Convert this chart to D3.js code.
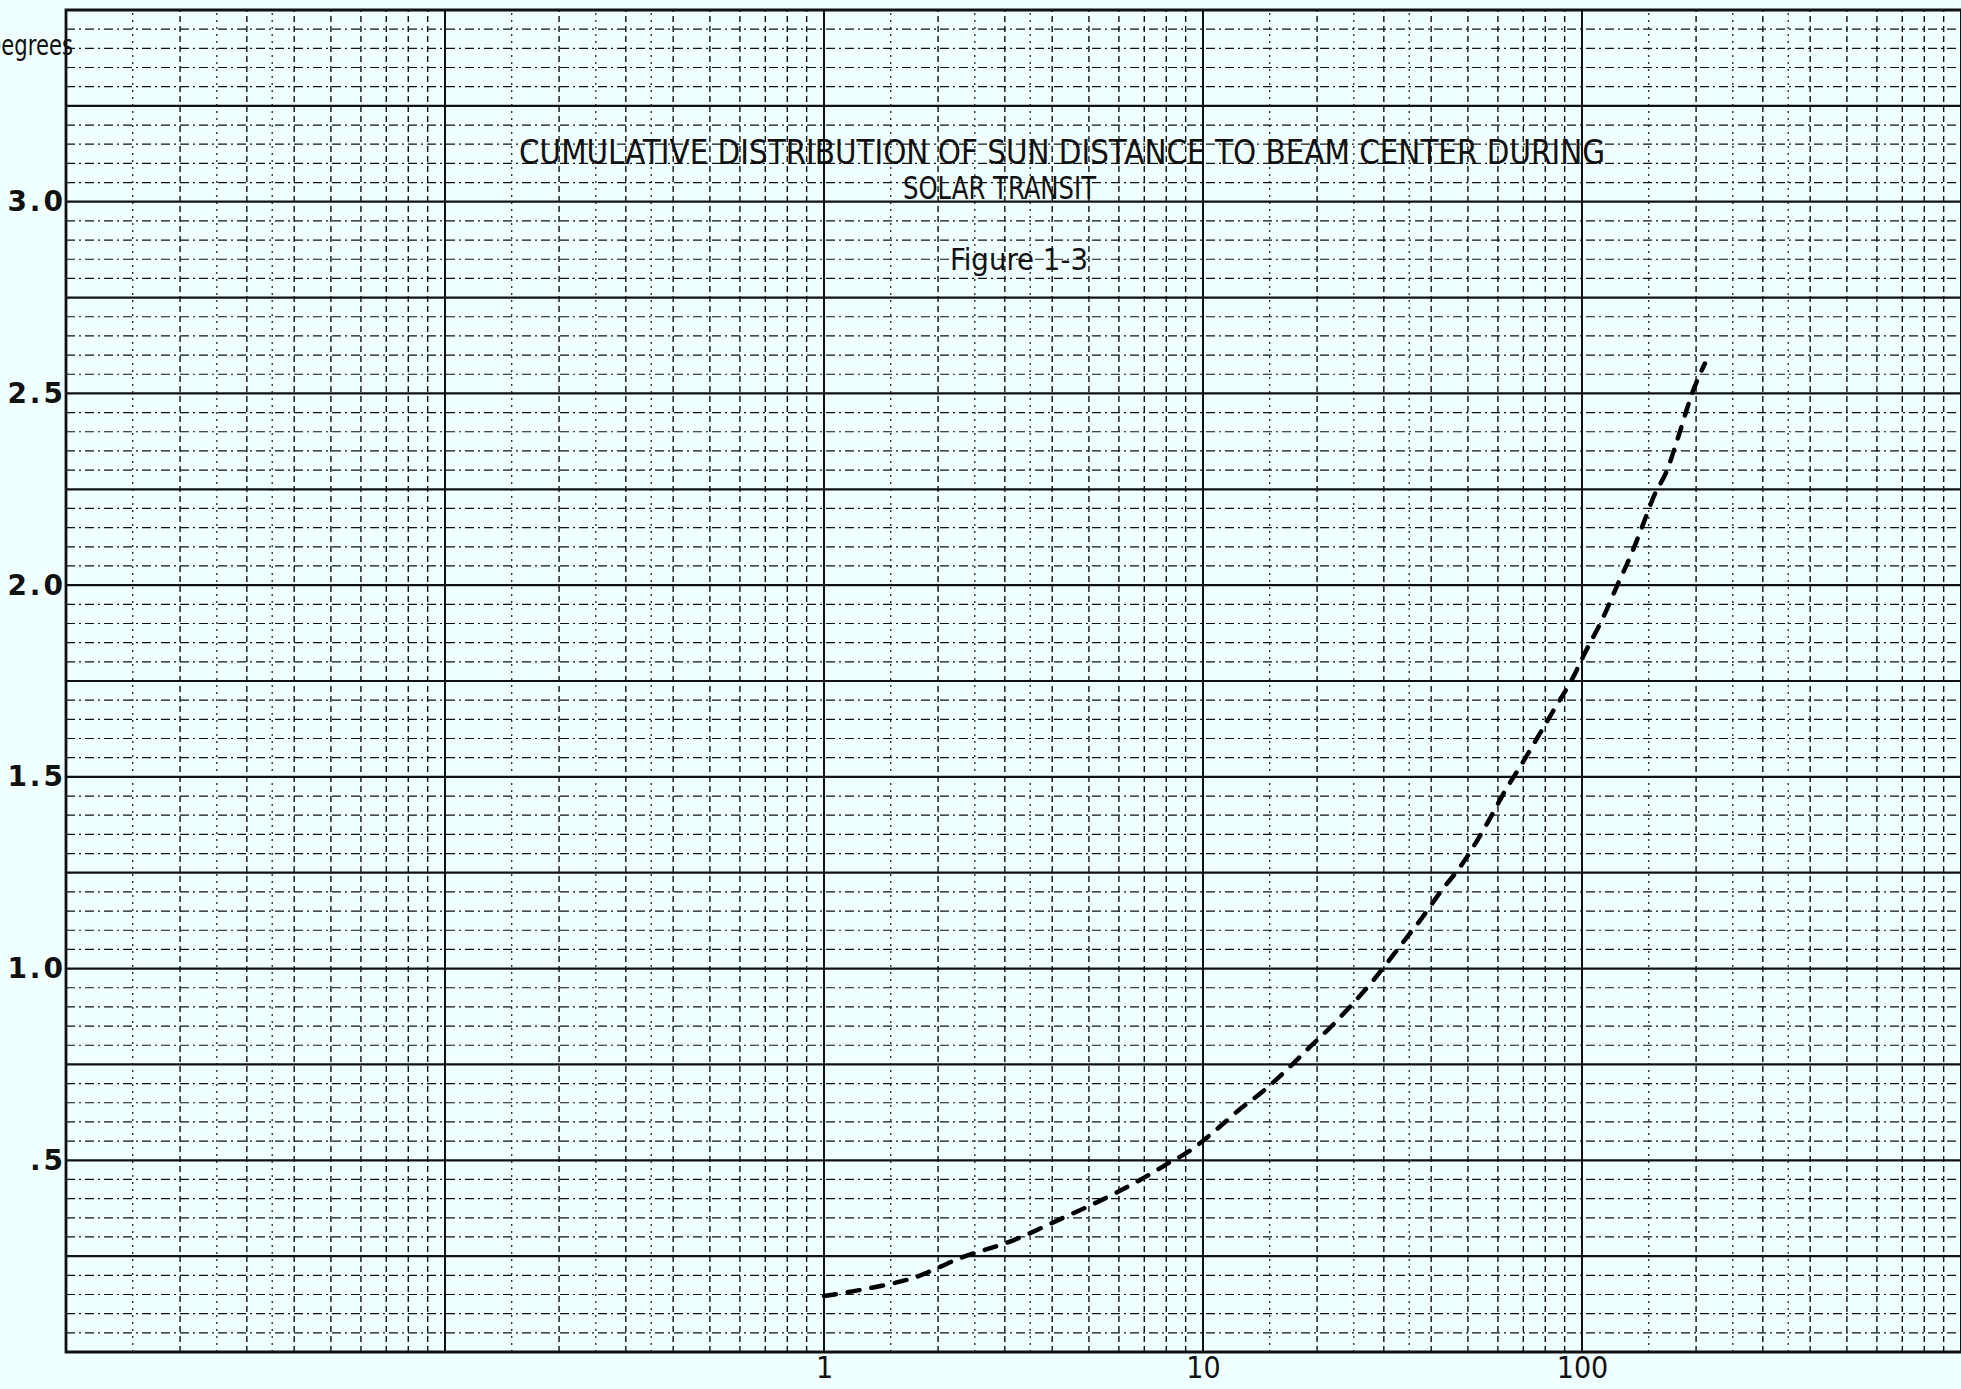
<!DOCTYPE html>
<html>
<head>
<meta charset="utf-8">
<script src="https://cdn.jsdelivr.net/npm/d3@7"></script>
<style>
    body { margin: 0; background: #f0ffff; }
    svg { display: block; }
    .tick-label { font-family: "DejaVu Sans", sans-serif; fill: #111; }
    .title { font-family: "DejaVu Sans Condensed", "Liberation Sans Narrow", sans-serif; fill: #111; }
</style>
</head>
<body>
<div id="chart"></div>
<script>
// percent of time (log x) vs sun distance to beam center in degrees
var percentValues = [1.0, 1.28, 1.74, 2.29, 3.17, 4.32, 5.06, 6.0, 7.03, 8.09, 9.24, 10.7, 12.4, 14.4, 16.6,
    18.9, 21.6, 24.4, 27.9, 33.5, 38.0, 42.7, 47.7, 56.9, 62.7, 69.5, 77.1, 84.9, 94.2, 102, 113, 124,
    136, 145, 154, 168, 179, 196, 211];
var degreeValues = [0.146, 0.164, 0.195, 0.245, 0.292, 0.352, 0.383, 0.419, 0.456, 0.492, 0.525, 0.575, 0.63, 0.68, 0.735,
    0.79, 0.845, 0.9, 0.965, 1.065, 1.135, 1.205, 1.265, 1.388, 1.464, 1.535, 1.61, 1.68, 1.755, 1.825, 1.91, 2.0,
    2.089, 2.159, 2.227, 2.302, 2.383, 2.505, 2.578];

var xTickValues = [1, 10, 100];
var yTickValues = [0.5, 1.0, 1.5, 2.0, 2.5, 3.0];
var yTickLabels = [".5", "1.0", "1.5", "2.0", "2.5", "3.0"];
var gridMultipliers = [1, 1.5, 2, 2.5, 3, 3.5, 4, 5, 6, 7, 8, 9];
var decades = [0.01, 0.1, 1, 10, 100];

var width = 1961, height = 1389;
var margin = {top: 10, left: 66, bottom: 37, right: 0};

var svg = d3.select('#chart').append('svg')
    .attr('width', width)
    .attr('height', height);

svg.append('rect').attr('width', width).attr('height', height).attr('fill', '#f0ffff');

var x = d3.scaleLog()
    .domain([0.01, 1000])
    .range([margin.left, width - margin.right]);
var y = d3.scaleLinear()
    .domain([0, 3.5])
    .range([height - margin.bottom, margin.top]);

// graph paper: horizontal lines every 0.05, heavy every 0.25
var hLines = d3.range(0, 71).map(i => ({v: i * 0.05, major: i % 5 === 0}));
svg.append('g').selectAll('line')
    .data(hLines)
    .enter().append('line')
    .attr('x1', x(0.01))
    .attr('x2', x(1000))
    .attr('y1', d => y(d.v))
    .attr('y2', d => y(d.v))
    .attr('stroke', '#111')
    .attr('stroke-width', d => d.major ? 2.2 : 1.2)
    .attr('stroke-dasharray', d => d.major ? null : '9,4,2,4');

// vertical log lines
var vLines = [];
decades.forEach(function(dec) {
    gridMultipliers.forEach(function(m) {
        vLines.push({v: dec * m, kind: m === 1 ? 'major' : (m % 1 ? 'half' : 'minor')});
    });
});
vLines.push({v: 1000, kind: 'major'});

svg.append('g').selectAll('line')
    .data(vLines)
    .enter().append('line')
    .attr('x1', d => x(d.v))
    .attr('x2', d => x(d.v))
    .attr('y1', y(0))
    .attr('y2', y(3.5))
    .attr('stroke', '#111')
    .attr('stroke-width', d => d.kind === 'major' ? 2 : (d.kind === 'half' ? 1.2 : 1.4))
    .attr('stroke-dasharray', d => d.kind === 'major' ? null : (d.kind === 'half' ? '2,5' : '6,4'));

// frame
svg.append('path')
    .attr('d', 'M' + x(1000) + ',' + y(3.5) + 'H' + x(0.01) + 'V' + y(0) + 'H' + x(1000))
    .attr('fill', 'none')
    .attr('stroke', '#111')
    .attr('stroke-width', 2.8);

// axes
var xAxis = svg.append('g')
    .attr('transform', 'translate(0,' + y(0) + ')')
    .call(d3.axisBottom(x).tickValues(xTickValues).tickSize(0).tickPadding(5).tickFormat(d3.format('d')));
xAxis.select('.domain').remove();
xAxis.selectAll('text')
    .attr('class', 'tick-label')
    .style('font-family', '"Liberation Sans Narrow", "DejaVu Sans Condensed", sans-serif')
    .style('font-size', '30px');

var yAxis = svg.append('g')
    .attr('transform', 'translate(' + x(0.01) + ',0)')
    .call(d3.axisLeft(y).tickValues(yTickValues).tickSize(0).tickPadding(0)
        .tickFormat((d, i) => yTickLabels[i]));
yAxis.select('.domain').remove();
yAxis.selectAll('text')
    .attr('class', 'tick-label')
    .style('font-size', '28px')
    .style('font-weight', 'bold')
    .style('letter-spacing', '3px');

// axis unit (runs off the page edge like the scan)
svg.append('text')
    .attr('class', 'tick-label')
    .attr('x', -15)
    .attr('y', 55)
    .attr('textLength', 88)
    .attr('lengthAdjust', 'spacingAndGlyphs')
    .style('font-size', '28px')
    .text('Degrees');

// titles
svg.append('text')
    .attr('class', 'title')
    .attr('x', 519)
    .attr('y', 164)
    .attr('textLength', 1086)
    .attr('lengthAdjust', 'spacingAndGlyphs')
    .style('font-size', '34px')
    .text('CUMULATIVE DISTRIBUTION OF SUN DISTANCE TO BEAM CENTER DURING');
svg.append('text')
    .attr('class', 'title')
    .attr('x', 903)
    .attr('y', 199)
    .attr('textLength', 193)
    .attr('lengthAdjust', 'spacingAndGlyphs')
    .style('font-size', '32px')
    .text('SOLAR TRANSIT');
svg.append('text')
    .attr('class', 'title')
    .attr('x', 950)
    .attr('y', 270)
    .attr('textLength', 138)
    .attr('lengthAdjust', 'spacingAndGlyphs')
    .style('font-size', '30px')
    .text('Figure 1-3');

// the curve
var points = percentValues.map((p, i) => ({p: p, deg: degreeValues[i]}));
var line = d3.line()
    .x(d => x(d.p))
    .y(d => y(d.deg))
    .curve(d3.curveMonotoneX);

svg.append('path')
    .datum(points)
    .attr('fill', 'none')
    .attr('stroke', '#000')
    .attr('stroke-width', 4.5)
    .attr('stroke-linecap', 'round')
    .attr('stroke-dasharray', '12,12')
    .attr('d', line);
</script>
</body>
</html>
